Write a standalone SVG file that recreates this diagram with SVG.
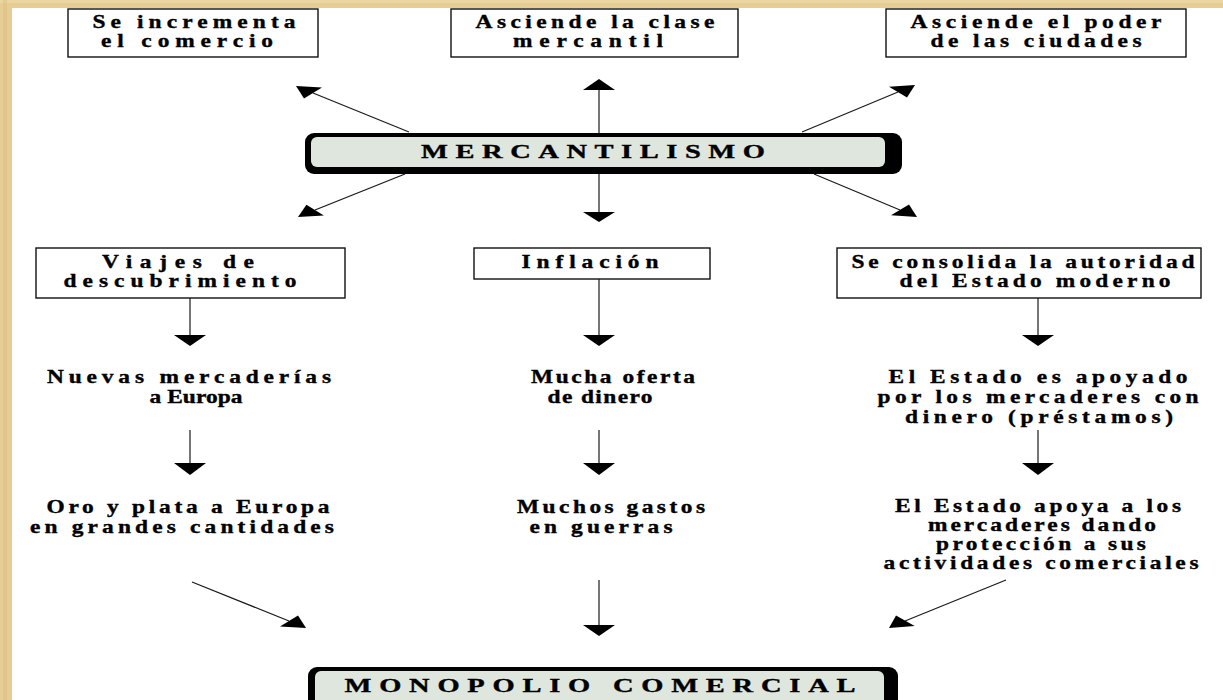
<svg xmlns="http://www.w3.org/2000/svg" width="1223" height="700" viewBox="0 0 1223 700">
<style>
.bg{fill:#e6cd94}
.box{fill:#fff;stroke:#111;stroke-width:1.4}
.sh{fill:#000}
.fl{fill:#dfe6de}
.t{font-family:"Liberation Serif","Times New Roman",serif;font-weight:bold;font-size:18px;fill:#000;stroke:#000;stroke-width:0.35;text-anchor:middle}
.big{font-size:19px}
.ln{stroke:#1a1a1a;stroke-width:1.2;fill:none}
.ah{fill:#000}
</style>
<rect width="1223" height="700" fill="#fff"/>
<g id="parchment">
<rect class="bg" x="0" y="0" width="1223" height="8"/>
<rect class="bg" x="0" y="0" width="12" height="700"/>
<rect x="0" y="0" width="1223" height="3" fill="#edd8a6" opacity="0.7"/>
<rect x="3" y="0" width="4" height="700" fill="#dcbf80" opacity="0.45"/>
</g>

<g id="n1"><rect class="box" x="68" y="9" width="250" height="48"/>
<text class="t" transform="translate(194,28) scale(1.3,1)" textLength="156.2" lengthAdjust="spacing">Se incrementa</text>
<text class="t" transform="translate(187,47) scale(1.3,1)" textLength="132.3" lengthAdjust="spacing">el comercio</text></g>

<g id="n2"><rect class="box" x="451" y="9" width="287" height="48"/>
<text class="t" transform="translate(595,28) scale(1.3,1)" textLength="183.8" lengthAdjust="spacing">Asciende la clase</text>
<text class="t" transform="translate(588,47) scale(1.3,1)" textLength="115.4" lengthAdjust="spacing">mercantil</text></g>

<g id="n3"><rect class="box" x="886" y="9" width="300" height="48"/>
<text class="t" transform="translate(1036,28) scale(1.3,1)" textLength="193.1" lengthAdjust="spacing">Asciende el poder</text>
<text class="t" transform="translate(1036,47) scale(1.3,1)" textLength="162.3" lengthAdjust="spacing">de las ciudades</text></g>

<g id="mercantilismo">
<rect class="sh" x="305" y="133" width="597" height="41" rx="9"/>
<rect class="fl" x="311" y="137" width="574" height="30" rx="6"/>
<text class="t big" transform="translate(593,158) scale(1.5,1)" textLength="229.3" lengthAdjust="spacing">MERCANTILISMO</text></g>

<g id="n4"><rect class="box" x="36" y="248" width="309" height="50"/>
<text class="t" transform="translate(178,268) scale(1.3,1)" textLength="116.9" lengthAdjust="spacing">Viajes de</text>
<text class="t" transform="translate(180,287) scale(1.3,1)" textLength="179.2" lengthAdjust="spacing">descubrimiento</text></g>

<g id="n5"><rect class="box" x="474" y="248" width="236" height="31"/>
<text class="t" transform="translate(590,268) scale(1.3,1)" textLength="105.4" lengthAdjust="spacing">Inflación</text></g>

<g id="n6"><rect class="box" x="837" y="248" width="364" height="50"/>
<text class="t" transform="translate(1023,268) scale(1.3,1)" textLength="263.8" lengthAdjust="spacing">Se consolida la autoridad</text>
<text class="t" transform="translate(1035,287) scale(1.3,1)" textLength="208.5" lengthAdjust="spacing">del Estado moderno</text></g>

<g id="n7">
<text class="t" transform="translate(189,383) scale(1.3,1)" textLength="218.5" lengthAdjust="spacing">Nuevas mercaderías</text>
<text class="t" transform="translate(196,403) scale(1.3,1)" textLength="71.5" lengthAdjust="spacing">a Europa</text></g>

<g id="n8">
<text class="t" transform="translate(613,383) scale(1.3,1)" textLength="126.2" lengthAdjust="spacing">Mucha oferta</text>
<text class="t" transform="translate(600,403) scale(1.3,1)" textLength="80.8" lengthAdjust="spacing">de dinero</text></g>

<g id="n9">
<text class="t" transform="translate(1038,383) scale(1.3,1)" textLength="230" lengthAdjust="spacing">El Estado es apoyado</text>
<text class="t" transform="translate(1038,403) scale(1.3,1)" textLength="246.9" lengthAdjust="spacing">por los mercaderes con</text>
<text class="t" transform="translate(1039,423) scale(1.3,1)" textLength="206.2" lengthAdjust="spacing">dinero (préstamos)</text></g>

<g id="n10">
<text class="t" transform="translate(188,513) scale(1.3,1)" textLength="217.7" lengthAdjust="spacing">Oro y plata a Europa</text>
<text class="t" transform="translate(182,533) scale(1.3,1)" textLength="233.8" lengthAdjust="spacing">en grandes cantidades</text></g>

<g id="n11">
<text class="t" transform="translate(611,513) scale(1.3,1)" textLength="144.6" lengthAdjust="spacing">Muchos gastos</text>
<text class="t" transform="translate(601,533) scale(1.3,1)" textLength="110" lengthAdjust="spacing">en guerras</text></g>

<g id="n12">
<text class="t" transform="translate(1038,512) scale(1.3,1)" textLength="220" lengthAdjust="spacing">El Estado apoya a los</text>
<text class="t" transform="translate(1042,531) scale(1.3,1)" textLength="175.4" lengthAdjust="spacing">mercaderes dando</text>
<text class="t" transform="translate(1041,550) scale(1.3,1)" textLength="161.5" lengthAdjust="spacing">protección a sus</text>
<text class="t" transform="translate(1041,569) scale(1.3,1)" textLength="242.3" lengthAdjust="spacing">actividades comerciales</text></g>

<g id="monopolio">
<rect class="sh" x="308" y="667" width="590" height="50" rx="9"/>
<rect class="fl" x="315" y="671" width="569" height="45" rx="6"/>
<text class="t big" transform="translate(600,692) scale(1.5,1)" textLength="340.7" lengthAdjust="spacing">MONOPOLIO COMERCIAL</text></g>

<g id="connectors">
<line class="ln" x1="409" y1="132" x2="313" y2="93"/>
<polygon class="ah" points="296,86 322,87.5 304,98.4"/>
<line class="ln" x1="599" y1="133" x2="599" y2="90"/>
<polygon class="ah" points="583,90 615,90 599,79"/>
<line class="ln" x1="802" y1="132" x2="898" y2="92"/>
<polygon class="ah" points="915,85 907,97.4 889,86.7"/>
<line class="ln" x1="405" y1="174" x2="315" y2="210"/>
<polygon class="ah" points="298,217 306.4,204.7 323.9,215.6"/>
<line class="ln" x1="599" y1="174" x2="599" y2="212"/>
<polygon class="ah" points="583,212 615,212 599,222"/>
<line class="ln" x1="814" y1="174" x2="900" y2="210"/>
<polygon class="ah" points="917,217 891,215.3 909,204.6"/>

<line class="ln" x1="190" y1="298" x2="190" y2="335"/>
<polygon class="ah" points="174,335 206,335 190,346"/>
<line class="ln" x1="599" y1="279" x2="599" y2="335"/>
<polygon class="ah" points="583,335 615,335 599,346"/>
<line class="ln" x1="1038" y1="298" x2="1038" y2="335"/>
<polygon class="ah" points="1022,335 1054,335 1038,346"/>

<line class="ln" x1="190" y1="430" x2="190" y2="463"/>
<polygon class="ah" points="174,463 206,463 190,475"/>
<line class="ln" x1="599" y1="430" x2="599" y2="463"/>
<polygon class="ah" points="583,463 615,463 599,475"/>
<line class="ln" x1="1038" y1="430" x2="1038" y2="463"/>
<polygon class="ah" points="1022,463 1054,463 1038,475"/>

<line class="ln" x1="192" y1="582" x2="289" y2="621"/>
<polygon class="ah" points="306,628 280,626.4 298,615.6"/>
<line class="ln" x1="599" y1="580" x2="599" y2="625"/>
<polygon class="ah" points="583,625 615,625 599,636"/>
<line class="ln" x1="1006" y1="580" x2="905" y2="621"/>
<polygon class="ah" points="889,628 896,615.5 914.7,625.9"/>
</g>
</svg>
